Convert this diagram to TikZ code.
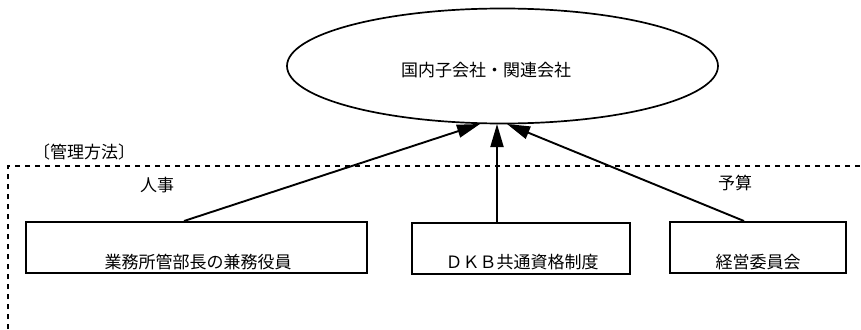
\documentclass[tikz,border=0pt]{standalone}
\usepackage{fontspec}
\setmainfont{Noto Sans CJK JP}
\usetikzlibrary{shapes.geometric,arrows.meta,calc}
\begin{document}
\begin{tikzpicture}[x=1pt,y=-1pt,
  txt/.style={font=\fontsize{17}{20}\selectfont, inner sep=0pt},
  boxnode/.style={draw, line width=2pt, minimum height=51pt, inner sep=0pt},
  conn/.style={line width=1.9pt, -{Triangle[length=23pt,width=13pt]}},
  frame/.style={line width=1.9pt, dash pattern=on 5pt off 5pt}]
\useasboundingbox (0,0) rectangle (861,329);
\node[draw, ellipse, line width=1.7pt, minimum width=431pt, minimum height=115pt, inner sep=0pt] (org) at (502.5,66) {};
\node[txt] (orgt) at (486,70) {国内子会社・関連会社};
\node[boxnode, minimum width=341pt] (b1) at (196.5,247.5) {};
\node[boxnode, minimum width=218pt] (b2) at (521,248) {};
\node[boxnode, minimum width=176pt] (b3) at (758,247.5) {};
\node[txt] (t1) at (198,262) {業務所管部長の兼務役員};
\node[txt] (t2) at (522,262) {ＤＫＢ共通資格制度};
\node[txt] (t3) at (758,262) {経営委員会};
\node[txt] (kanri) at (84,152) {〔管理方法〕};
\node[txt] (jinji) at (157,185) {人事};
\node[txt] (yosan) at (735,183) {予算};
\coordinate (c0) at (8,329);
\coordinate (c1) at (8,166);
\coordinate (c2) at (861,166);
\draw[frame] (c0) -- (c1) -- (c2);
\coordinate (a1) at (480,124);
\coordinate (a2) at (497,124);
\coordinate (a3) at (507,124);
\draw[conn] ($(b1.north west)+(159,0)$) -- (a1);
\draw[conn] (b2.north -| a2) -- (a2);
\draw[conn] ($(b3.north west)+(75,0)$) -- (a3);
\end{tikzpicture}
\end{document}
